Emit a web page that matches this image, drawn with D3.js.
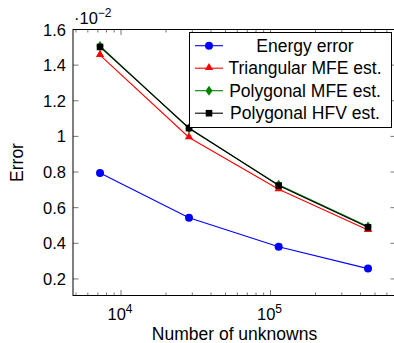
<!DOCTYPE html>
<html>
<head>
<meta charset="utf-8">
<script src="https://cdn.jsdelivr.net/npm/d3@7"></script>
<style>
  body { margin: 0; background: #fff; }
  text { font-family: "Liberation Sans", Arial, Helvetica, sans-serif; fill: #000; }
</style>
</head>
<body>
<script>
// data (error values are x 10^-2)
var unknowns = [7240, 28500, 113400, 449000];
var energyError = [0.795, 0.543, 0.381, 0.258];
var triangularMFE = [1.456, 0.994, 0.703, 0.474];
var polygonalMFE = [1.508, 1.044, 0.728, 0.494];
var polygonalHFV = [1.502, 1.047, 0.724, 0.490];
var seriesNames = ["Energy error", "Triangular MFE est.", "Polygonal MFE est.", "Polygonal HFV est."];
var yTicks = [0.2, 0.4, 0.6, 0.8, 1.0, 1.2, 1.4, 1.6];
var xMajor = [1e4, 1e5];
var xMinor = [5e3, 6e3, 7e3, 8e3, 9e3, 2e4, 3e4, 4e4, 5e4, 6e4, 7e4, 8e4, 9e4, 2e5, 3e5, 4e5, 5e5, 6e5];

var width = 394, height = 343;
// plot box (note: "top" is a reserved window property, so prefix these)
var pLeft = 73, pRight = 396, pTop = 29.5, pBottom = 295.5;

var svg = d3.select("body").append("svg")
  .attr("width", width)
  .attr("height", height);

var x = d3.scaleLog().domain([4775, 691000]).range([pLeft, pRight]);
var y = d3.scaleLinear().domain([0.107, 1.6]).range([pBottom, pTop]);

var series = [
  { name: seriesNames[0], values: energyError, color: "#0000ff", marker: "circle" },
  { name: seriesNames[1], values: triangularMFE, color: "#ff0000", marker: "triangle" },
  { name: seriesNames[2], values: polygonalMFE, color: "#008000", marker: "diamond" },
  { name: seriesNames[3], values: polygonalHFV, color: "#000000", marker: "square" }
];

// ticks (inward, on all sides)
var ticks = svg.append("g").attr("stroke", "#555").attr("stroke-width", 0.8);
xMinor.forEach(function(v) {
  ticks.append("line").attr("x1", x(v)).attr("x2", x(v)).attr("y1", pBottom).attr("y2", pBottom - 3);
  ticks.append("line").attr("x1", x(v)).attr("x2", x(v)).attr("y1", pTop).attr("y2", pTop + 3);
});
xMajor.forEach(function(v) {
  ticks.append("line").attr("x1", x(v)).attr("x2", x(v)).attr("y1", pBottom).attr("y2", pBottom - 5.5);
  ticks.append("line").attr("x1", x(v)).attr("x2", x(v)).attr("y1", pTop).attr("y2", pTop + 5.5);
});
yTicks.forEach(function(v) {
  ticks.append("line").attr("x1", pLeft).attr("x2", pLeft + 5.5).attr("y1", y(v)).attr("y2", y(v));
  ticks.append("line").attr("x1", pRight).attr("x2", pRight - 5.5).attr("y1", y(v)).attr("y2", y(v));
});

// frame
svg.append("rect")
  .attr("x", pLeft).attr("y", pTop)
  .attr("width", pRight - pLeft).attr("height", pBottom - pTop)
  .attr("fill", "none").attr("stroke", "#000").attr("stroke-width", 1);

// y tick labels
svg.append("g").selectAll("text")
  .data(yTicks)
  .enter().append("text")
  .attr("x", pLeft - 7)
  .attr("y", function(d) { return y(d) + 6; })
  .attr("text-anchor", "end")
  .style("font-size", "16.5px")
  .text(function(d) { return d === 1 ? "1" : d.toFixed(1); });

// x tick labels 10^k
var xl = svg.append("g").selectAll("text")
  .data(xMajor)
  .enter().append("text")
  .attr("x", function(d) { return x(d) - 1; })
  .attr("y", 320)
  .attr("text-anchor", "middle")
  .style("font-size", "16.5px");
xl.append("tspan").text("10");
xl.append("tspan").attr("dy", -7).style("font-size", "12px")
  .text(function(d) { return Math.round(Math.log10(d)); });

// scale factor label
var sf = svg.append("text").attr("x", 74).attr("y", 24).style("font-size", "16.5px");
sf.append("tspan").text("\u00b710");
sf.append("tspan").attr("dy", -7).style("font-size", "12px").text("\u22122");

// axis titles
svg.append("text")
  .attr("x", (pLeft + pRight) / 2)
  .attr("y", 340)
  .attr("text-anchor", "middle")
  .style("font-size", "17.5px")
  .text("Number of unknowns");

svg.append("text")
  .attr("transform", "translate(23," + ((pTop + pBottom) / 2) + ") rotate(-90)")
  .attr("text-anchor", "middle")
  .style("font-size", "17.5px")
  .text("Error");

// markers
function drawMarker(g, type, color, cx, cy) {
  if (type === "circle") {
    g.append("circle").attr("cx", cx).attr("cy", cy).attr("r", 4).attr("fill", color);
  } else if (type === "triangle") {
    g.append("path").attr("d", d3.symbol().type(d3.symbolTriangle).size(30)())
      .attr("transform", "translate(" + cx + "," + (cy - 0.5) + ")").attr("fill", color);
  } else if (type === "diamond") {
    g.append("path").attr("d", "M0,-5L3.5,0L0,5L-3.5,0Z")
      .attr("transform", "translate(" + cx + "," + cy + ")").attr("fill", color);
  } else {
    g.append("rect").attr("x", cx - 3.3).attr("y", cy - 3.3).attr("width", 6.6).attr("height", 6.6).attr("fill", color);
  }
}

var line = d3.line()
  .x(function(d, i) { return x(unknowns[i]); })
  .y(function(d) { return y(d); });

series.forEach(function(s) {
  var g = svg.append("g");
  g.append("path")
    .attr("d", line(s.values))
    .attr("fill", "none")
    .attr("stroke", s.color)
    .attr("stroke-width", 1.1);
  s.values.forEach(function(v, i) {
    drawMarker(g, s.marker, s.color, x(unknowns[i]), y(v));
  });
});

// legend
var lg = svg.append("g");
lg.append("rect")
  .attr("x", 189.5).attr("y", 32.5)
  .attr("width", 202).attr("height", 95)
  .attr("fill", "#fff").attr("stroke", "#000").attr("stroke-width", 1);
series.forEach(function(s, i) {
  var cy = 45.7 + i * 22.5;
  lg.append("line").attr("x1", 195).attr("x2", 223).attr("y1", cy).attr("y2", cy)
    .attr("stroke", s.color).attr("stroke-width", 1.1);
  drawMarker(lg, s.marker, s.color, 209, cy);
  lg.append("text")
    .attr("x", 305).attr("y", cy + 6.2)
    .attr("text-anchor", "middle")
    .style("font-size", "17.5px")
    .text(s.name);
});
</script>
</body>
</html>
